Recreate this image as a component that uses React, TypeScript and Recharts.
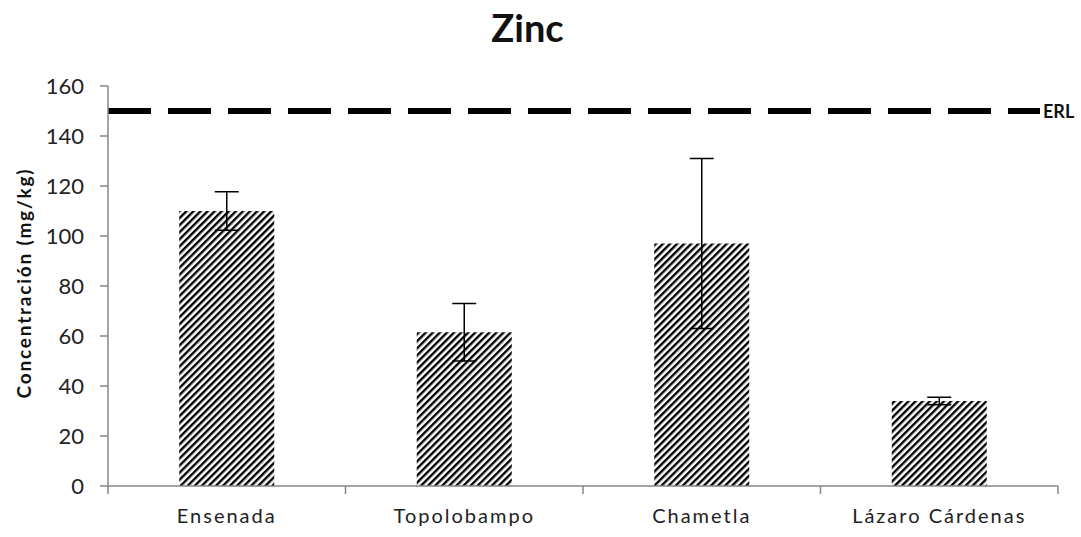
import { BarChart, Bar, XAxis, YAxis, ErrorBar, ReferenceLine } from 'recharts'

const sites = ['Ensenada', 'Topolobampo', 'Chametla', 'Lázaro Cárdenas']
const zinc = [110, 61.5, 97, 34]
const zincErr = [7.7, 11.5, 34, 1.5]
const yTicks = [0, 20, 40, 60, 80, 100, 120, 140, 160]
const erl = 150

const data = sites.map((site, i) => ({ site, zinc: zinc[i], err: zincErr[i] }))

const FONT = 'Lato, "Open Sans", sans-serif'
const AXIS_GRAY = '#868686'

function SiteTick(props: any) {
  const { x, y, payload, index } = props
  const half = payload?.offset ?? 0
  return (
    <g>
      <line x1={x - half} y1={y - 8} x2={x - half} y2={y} stroke={AXIS_GRAY} strokeWidth={1.5} />
      {index === sites.length - 1 && (
        <line x1={x + half} y1={y - 8} x2={x + half} y2={y} stroke={AXIS_GRAY} strokeWidth={1.5} />
      )}
      <text x={x} y={y + 29} textAnchor="middle" fontSize={20} letterSpacing={2} fill="#222" fontFamily={FONT}>
        {payload.value}
      </text>
    </g>
  )
}

function ErlLine(props: any) {
  const { x1, y1, x2, y2 } = props
  return (
    <g>
      <line x1={x1} y1={y1} x2={x2 - 18} y2={y2} stroke="#000" strokeWidth={6} strokeDasharray="43 17" />
      <text x={x2 - 15} y={y1 + 7} fontSize={18} fontWeight="bold" fill="#111" fontFamily={FONT}>
        ERL
      </text>
    </g>
  )
}

export default function App() {
  return (
    <div style={{ position: 'absolute', left: 0, top: 0, width: 1081, height: 537, background: '#fff', fontFamily: FONT }}>
      <div style={{ position: 'absolute', left: 0, width: 1055, top: 4, textAlign: 'center', fontSize: 38, fontWeight: 'bold', color: '#111' }}>
        Zinc
      </div>
      <div
        style={{
          position: 'absolute',
          left: 23,
          top: 283,
          transform: 'translate(-50%, -50%) rotate(-90deg)',
          whiteSpace: 'nowrap',
          fontSize: 19,
          fontWeight: 'bold',
          letterSpacing: 1.8,
          color: '#111',
        }}
      >
        Concentración (mg/kg)
      </div>
      <BarChart
        width={1081}
        height={537}
        data={data}
        margin={{ top: 86, right: 23, bottom: 0, left: 0 }}
        barCategoryGap="30%"
      >
        <defs>
          <pattern id="hatch" width="5" height="5" patternUnits="userSpaceOnUse" patternTransform="rotate(45)">
            <rect x="0" y="0" width="5" height="5" fill="#fff" />
            <rect x="0" y="0" width="2.4" height="5" fill="#000" />
          </pattern>
        </defs>
        <XAxis
          dataKey="site"
          height={51}
          axisLine={{ stroke: AXIS_GRAY, strokeWidth: 1.5 }}
          tickLine={false}
          tick={<SiteTick />}
          interval={0}
        />
        <YAxis
          width={108}
          domain={[0, 160]}
          ticks={yTicks}
          interval={0}
          tickSize={8}
          tickMargin={16}
          axisLine={{ stroke: AXIS_GRAY, strokeWidth: 1.5 }}
          tickLine={{ stroke: AXIS_GRAY, strokeWidth: 1.5 }}
          tick={{ fontSize: 22, fill: '#222', fontFamily: FONT }}
        />
        <ReferenceLine y={erl} shape={<ErlLine />} />
        <Bar dataKey="zinc" fill="url(#hatch)" isAnimationActive={false}>
          <ErrorBar dataKey="err" direction="y" width={12} stroke="#000" strokeWidth={1.5} />
        </Bar>
      </BarChart>
    </div>
  )
}
